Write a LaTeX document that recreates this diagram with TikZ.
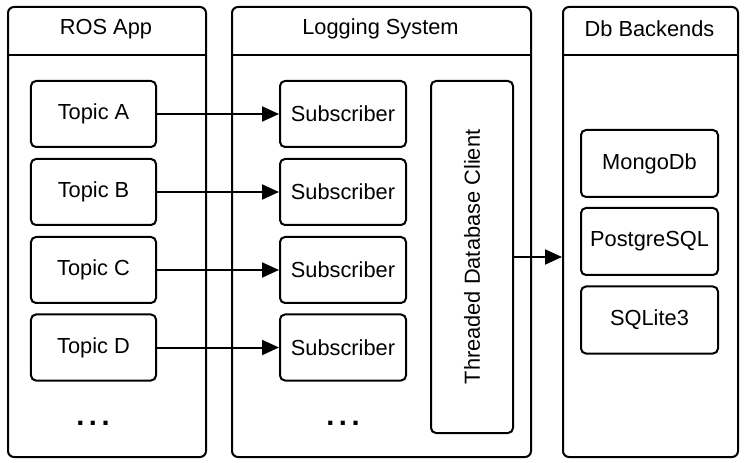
\documentclass[tikz,border=0pt]{standalone}
\usepackage{fontspec}
\setmainfont{Liberation Sans}
\usetikzlibrary{arrows.meta}
\begin{document}
\begin{tikzpicture}[x=1bp,y=-1bp,
  every node/.style={font=\fontsize{21.8bp}{26bp}\selectfont, inner sep=0pt},
  panel/.style={draw, line width=2bp, rounded corners=6bp, anchor=north west},
  box/.style={draw, line width=2bp, rounded corners=5bp, minimum height=66bp},
  topicbox/.style={box, minimum width=125bp},
  subbox/.style={box, minimum width=126bp},
  dbbox/.style={box, minimum width=137bp, minimum height=67bp},
  conn/.style={line width=2bp, -{Triangle[length=17bp,width=15bp]}},
  dots/.style={font=\fontsize{29bp}{30bp}\selectfont\bfseries, anchor=base}]
\useasboundingbox (0,0) rectangle (745,463);
% panels
\node[panel, minimum width=198bp, minimum height=450bp] (ros) at (7,6) {};
\node[panel, minimum width=299bp, minimum height=450bp] (log) at (231,6) {};
\node[panel, minimum width=175bp, minimum height=450bp] (db) at (562,6) {};
\draw[line width=2bp] (ros.west |- 0,55) -- (ros.east |- 0,55);
\draw[line width=2bp] (log.west |- 0,55) -- (log.east |- 0,55);
\draw[line width=2bp] (db.west |- 0,55) -- (db.east |- 0,55);
\node (rost) at (106,29) {ROS App};
\node (logt) at (380.5,29) {Logging System};
\node (dbt) at (649.5,29) {Db Backends};
% topics
\node[topicbox] (ta) at (93.5,114) {Topic A};
\node[topicbox] (tb) at (93.5,192) {Topic B};
\node[topicbox] (tc) at (93.5,270) {Topic C};
\node[topicbox] (td) at (93.5,347.5) {Topic D};
\node[dots] (rdots) at (93,425.5) {.\hspace{4.5bp}.\hspace{4.5bp}.};
% subscribers
\node[subbox] (sa) at (343,114) {Subscriber};
\node[subbox] (sb) at (343,192) {Subscriber};
\node[subbox] (sc) at (343,270) {Subscriber};
\node[subbox] (sd) at (343,347.5) {Subscriber};
\node[dots] (ldots) at (343,425.5) {.\hspace{4.5bp}.\hspace{4.5bp}.};
% threaded client
\node[box, rotate=90, minimum width=352bp, minimum height=82bp] (client) at (472,257) {Threaded Database Client};
% db backends
\node[dbbox] (mongo) at (649.5,163.5) {MongoDb};
\node[dbbox] (pg) at (649.5,241.5) {PostgreSQL};
\node[dbbox] (sq) at (649.5,320) {SQLite3};
% connectors
\draw[conn] (ta.east) -- (sa.west);
\draw[conn] (tb.east) -- (sb.west);
\draw[conn] (tc.east) -- (sc.west);
\draw[conn] (td.east) -- (sd.west);
\coordinate (dbin) at (db.west |- client.south);
\draw[conn] (client.south) -- (dbin);
\end{tikzpicture}
\end{document}
